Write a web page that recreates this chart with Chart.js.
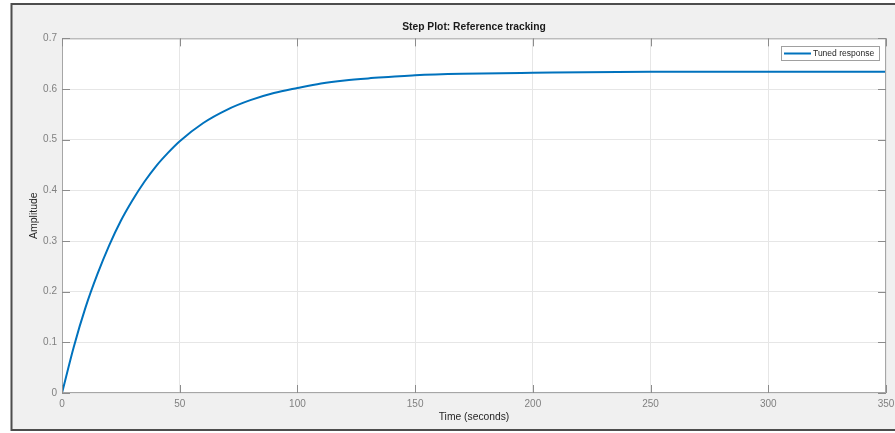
<!DOCTYPE html>
<html>
<head>
<meta charset="utf-8">
<script src="https://cdn.jsdelivr.net/npm/chart.js@4"></script>
<style>
  html, body { margin: 0; padding: 0; background: #fff; }
  #wrap { width: 895px; height: 433px; }
</style>
</head>
<body>
<div id="wrap"><canvas id="step"></canvas></div>
<script>
// step response
const times = [0, 5, 10, 15, 20, 25, 30, 35, 40, 45, 50, 60, 70, 80, 90, 100, 110, 120, 130, 140, 150, 170, 200, 250, 300, 350];
const amplitude = [0, 0.091, 0.169, 0.234, 0.291, 0.340, 0.381, 0.417, 0.448, 0.474, 0.497, 0.533, 0.559, 0.578, 0.592, 0.602, 0.611, 0.617, 0.621, 0.624, 0.627, 0.630, 0.632, 0.634, 0.634, 0.634];
const xTicks = [0, 50, 100, 150, 200, 250, 300, 350];
const yTicks = [0, 0.1, 0.2, 0.3, 0.4, 0.5, 0.6, 0.7];

const FONT = '"Liberation Sans", Arial, Helvetica, sans-serif';
const blue = '#0072BD';

// figure frame, axes box, inward ticks and legend box (matlab look)
const matlabFrame = {
    id: 'matlabFrame',
    beforeDraw(chart) {
        const ctx = chart.ctx;
        ctx.save();
        ctx.fillStyle = '#fff';
        ctx.fillRect(0, 0, chart.width, chart.height);
        ctx.fillStyle = '#f0f0f0';
        ctx.fillRect(11, 3, chart.width - 11, 428);
        ctx.strokeStyle = '#4d4d4d';
        ctx.lineWidth = 2;
        ctx.beginPath();
        ctx.moveTo(11.5, 3); ctx.lineTo(11.5, 431);
        ctx.moveTo(11, 4); ctx.lineTo(chart.width, 4);
        ctx.moveTo(11, 430); ctx.lineTo(chart.width, 430);
        ctx.stroke();
        const a = chart.chartArea;
        ctx.fillStyle = '#fff';
        ctx.fillRect(a.left, a.top, a.right - a.left, a.bottom - a.top);
        ctx.restore();
    },
    afterDraw(chart) {
        const ctx = chart.ctx;
        const a = chart.chartArea;
        const xs = chart.scales.x, ys = chart.scales.y;
        ctx.save();
        ctx.strokeStyle = '#a6a6a6';
        ctx.lineWidth = 1;
        ctx.strokeRect(a.left + 0.5, a.top + 0.5, a.right - a.left - 1, a.bottom - a.top - 1);
        ctx.strokeStyle = '#8c8c8c';
        ctx.beginPath();
        const tl = 8;
        xTicks.forEach(v => {
            const px = Math.round(xs.getPixelForValue(v)) + 0.5;
            ctx.moveTo(px, a.bottom); ctx.lineTo(px, a.bottom - tl);
            ctx.moveTo(px, a.top); ctx.lineTo(px, a.top + tl);
        });
        yTicks.forEach(v => {
            const py = Math.round(ys.getPixelForValue(v)) + 0.5;
            ctx.moveTo(a.left, py); ctx.lineTo(a.left + tl, py);
            ctx.moveTo(a.right, py); ctx.lineTo(a.right - tl, py);
        });
        ctx.stroke();

        // legend
        const ds = chart.data.datasets[0];
        const bx = 781, by = 46, bw = 98, bh = 14;
        ctx.fillStyle = '#fff';
        ctx.fillRect(bx, by, bw, bh);
        ctx.strokeStyle = '#a0a0a0';
        ctx.strokeRect(bx + 0.5, by + 0.5, bw, bh);
        ctx.strokeStyle = ds.borderColor;
        ctx.lineWidth = 2;
        ctx.beginPath();
        ctx.moveTo(784, by + 7.5); ctx.lineTo(811, by + 7.5);
        ctx.stroke();
        ctx.fillStyle = '#262626';
        ctx.font = '8.5px ' + FONT;
        ctx.textBaseline = 'middle';
        ctx.fillText(ds.label, 813, by + 8);
        ctx.restore();
    }
};

new Chart(document.getElementById('step'), {
    type: 'line',
    data: {
        datasets: [{
            label: 'Tuned response',
            data: times.map((t, i) => ({ x: t, y: amplitude[i] })),
            borderColor: blue,
            borderWidth: 2,
            pointRadius: 0,
            cubicInterpolationMode: 'monotone',
            fill: false
        }]
    },
    options: {
        responsive: true,
        maintainAspectRatio: false,
        animation: false,
        layout: { padding: { left: 0, right: 9, top: 0, bottom: 0 } },
        plugins: {
            legend: { display: false },
            tooltip: { enabled: false },
            title: {
                display: true,
                text: 'Step Plot: Reference tracking',
                fullSize: false,
                color: '#1a1a1a',
                font: { family: FONT, size: 10.3, weight: 'bold' },
                padding: { top: 21, bottom: 5 }
            }
        },
        scales: {
            x: {
                type: 'linear',
                min: 0, max: 350,
                afterBuildTicks: s => { s.ticks = xTicks.map(v => ({ value: v })); },
                afterFit: s => { s.height = 40; s.paddingLeft = 0; s.paddingRight = 0; },
                grid: { color: '#e6e6e6', drawTicks: false },
                border: { display: false },
                ticks: {
                    color: '#808080',
                    padding: 5,
                    maxRotation: 0,
                    font: { family: FONT, size: 10 }
                },
                title: {
                    display: true,
                    text: 'Time (seconds)',
                    color: '#262626',
                    font: { family: FONT, size: 10.3 },
                    padding: 10
                }
            },
            y: {
                min: 0, max: 0.7,
                afterBuildTicks: s => { s.ticks = yTicks.map(v => ({ value: v })); },
                afterFit: s => { s.width = 62; },
                grid: { color: '#e6e6e6', drawTicks: false },
                border: { display: false },
                ticks: {
                    color: '#808080',
                    padding: 5,
                    font: { family: FONT, size: 10 },
                    callback: v => String(+v.toFixed(1))
                },
                title: {
                    display: true,
                    text: 'Amplitude',
                    color: '#262626',
                    font: { family: FONT, size: 10.5 },
                    padding: 28
                }
            }
        }
    },
    plugins: [matlabFrame]
});
</script>
</body>
</html>
